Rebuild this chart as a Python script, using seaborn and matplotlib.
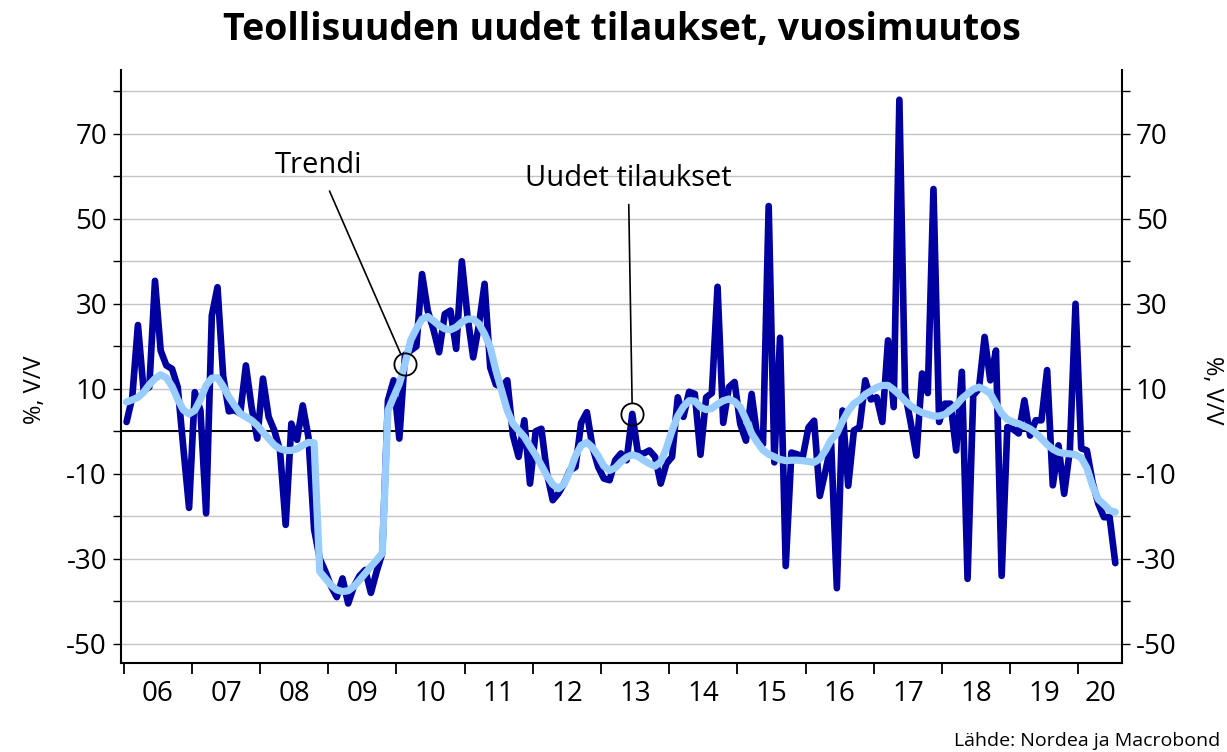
import numpy as np
import pandas as pd
import matplotlib
matplotlib.use("Agg")
import matplotlib.pyplot as plt
import seaborn as sns

# ---- data (monthly, Jan 2006 onwards) ----
orders = [
    2.2, 8, 25, 9.6, 10.4, 35.4, 19, 15.5, 14.7, 10.4,
    -4, -18, 9.2, 4.9, -19.3, 27.2, 33.9, 13, 4.7, 5,
    4.2, 15.5, 5.7, -1.7, 12.4, 3.4, 0.2, -4.5, -22, 1.8,
    -2, 6.1, -1.3, -23, -30, -33, -36.5, -39, -34.6, -40.5,
    -36.5, -34, -32.6, -38, -33, -28.7, 7.3, 12, -1.7, 18,
    19, 20, 37, 28.4, 24, 18.6, 27.6, 28.4, 19.4, 40,
    27, 17.4, 25, 34.7, 15, 11, 10.5, 12, -1, -6,
    2.6, -12.3, 0, 0.6, -10, -16.2, -14.6, -12.3, -9.2, -8.4,
    2, 4.5, -3.7, -8.4, -11.1, -11.5, -6.8, -5.2, -6.8, 4.1,
    -5.2, -5.2, -4.5, -6, -12.3, -7.6, -6, 8, 3.4, 9.3,
    8.8, -5.5, 8, 9, 34, 2, 10.4, 11.6, 1.7, -2.2,
    8.8, -1.4, -3, 53, -7.3, 22, -31.7, -5, -5.4, -6,
    0.9, 2.5, -15.2, -9.3, -3, -36.9, 4.9, -12.8, 0.2, 1,
    12, 7.5, 8, 2.2, 21.4, 5.7, 78, 9, 2, -5.7,
    13.6, 9, 57, 2.2, 6.5, 6.5, -4.5, 14, -34.7, 8.5,
    10, 22.2, 12, 19, -34, 1, 0.5, -0.5, 7.3, -1,
    2.6, 2.6, 14.4, -12.7, -3.3, -14.7, -4.5, 30, -4, -4.5,
    -12, -17, -20.2, -20.2, -31,
]
trend = [
    6.9, 7.4, 8.0, 9.2, 11.0, 12.4, 13.3, 12.6, 10.6, 7.5,
    5.0, 4.1, 4.9, 7.5, 10.8, 12.5, 12.6, 10.6, 8.1, 6.1,
    4.2, 3.4, 2.6, 1.4, -0.2, -1.7, -3.2, -4.1, -4.5, -4.5,
    -4.1, -3.3, -2.6, -2.7, -33.0, -34.6, -36.2, -37.3, -37.7, -37.5,
    -36.5, -35.0, -33.4, -31.8, -30.3, -28.7, 4.9, 8.1, 11.2, 15.9,
    21.4, 24.1, 26.4, 27.0, 26.0, 24.9, 24.1, 23.9, 24.5, 25.7,
    26.4, 26.4, 25.3, 22.9, 19.8, 14.3, 9.6, 4.9, 1.8, 0.2,
    -1.3, -3.5, -5.6, -8.0, -10.5, -12.5, -13.5, -12.4, -9.5, -5.8,
    -3.3, -2.6, -3.8, -5.8, -8.2, -9.2, -8.6, -7.2, -6.1, -5.5,
    -5.9, -6.8, -7.6, -8.2, -7.2, -4.0, 0.2, 3.6, 5.8, 7.2,
    7.1, 5.7, 5.1, 5.4, 6.4, 7.2, 7.6, 7.0, 5.7, 2.8,
    -0.5, -2.6, -4.4, -5.4, -6.0, -6.6, -6.9, -6.8, -6.8, -6.9,
    -7.1, -7.3, -6.5, -4.5, -2.0, -0.5, 2.4, 4.8, 6.5, 7.4,
    8.7, 9.5, 10.3, 10.8, 10.8, 9.8, 8.6, 7.2, 6.0, 5.1,
    4.4, 4.0, 3.6, 3.6, 4.0, 5.0, 6.1, 7.7, 8.8, 9.9,
    10.4, 9.8, 8.9, 6.5, 4.2, 2.8, 2.2, 1.8, 1.2, 0.6,
    -0.4, -1.7, -3.1, -4.2, -4.9, -5.2, -5.3, -5.5, -6.2, -8.6,
    -12.8, -16.0, -17.2, -18.6, -19.0,
]
start_year = 2006
year_labels = ["06", "07", "08", "09", "10", "11", "12", "13",
               "14", "15", "16", "17", "18", "19", "20"]
y_tick_labels = [-50, -30, -10, 10, 30, 50, 70]

title = "Teollisuuden uudet tilaukset, vuosimuutos"
ylabel = "%, V/V"
source = "Lähde: Nordea ja Macrobond"
lbl_trend = "Trendi"
lbl_orders = "Uudet tilaukset"

n = min(len(orders), len(trend))
x = start_year + (np.arange(n) + 0.5) / 12.0
df = pd.DataFrame({"x": x, "orders": orders[:n], "trend": trend[:n]})

# ---- style ----
sns.set_theme(style="white")
plt.rcParams["font.family"] = ["Open Sans", "DejaVu Sans"]
plt.rcParams["text.color"] = "black"
plt.rcParams["xtick.color"] = "black"
plt.rcParams["ytick.color"] = "black"
plt.rcParams["axes.labelcolor"] = "black"

fig = plt.figure(figsize=(12.27, 7.52), dpi=100)
ax = fig.add_axes([121 / 1227, 1 - 663 / 752, (1122 - 121) / 1227, (663 - 70) / 752])

dark = "#0000A0"
light = "#99CCFF"

# grid
for v in range(-50, 90, 10):
    ax.axhline(v, color="#c4c4c4", lw=1.0, zorder=0)
ax.axhline(0, color="black", lw=1.4, zorder=1)

sns.lineplot(data=df, x="x", y="orders", ax=ax, color=dark, lw=4.8,
             zorder=3, legend=False)
sns.lineplot(data=df, x="x", y="trend", ax=ax, color=light, lw=5.2,
             zorder=4, legend=False)

xmin, xmax = start_year - 0.04, start_year + 14.64
ax.set_xlim(xmin, xmax)
ax.set_ylim(-54.5, 85)

# x ticks at year boundaries, labels centred in the year
ax.set_xticks([start_year + k for k in range(len(year_labels))])
ax.set_xticklabels([])
label_pos = []
for k in range(len(year_labels)):
    a = start_year + k
    b = min(a + 1, xmax)
    label_pos.append((a + b) / 2)
ax.set_xticks(label_pos, minor=True)
ax.set_xticklabels(year_labels, minor=True)
ax.tick_params(axis="x", which="major", direction="out", length=8, width=1.3,
               color="black", bottom=True)
ax.tick_params(axis="x", which="minor", length=0, pad=12, labelsize=20,
               labelcolor="black")

# y ticks every 10, labels at odd tens, on both sides
ax.set_yticks(list(range(-50, 90, 10)))
ax.set_yticklabels([str(v) if v in y_tick_labels else "" for v in range(-50, 90, 10)])
ax.tick_params(axis="y", which="major", direction="out", length=6, width=1.0,
               color="black", left=True, right=True, labelleft=True,
               labelright=True, labelsize=20, pad=4, labelcolor="black")

for s in ["left", "right", "bottom"]:
    ax.spines[s].set_visible(True)
    ax.spines[s].set_color("black")
    ax.spines[s].set_linewidth(1.5)
ax.spines["top"].set_visible(False)

ax.set_xlabel("")
ax.set_ylabel("")
fig.text(35 / 1227, 1 - 390 / 752, ylabel, rotation=90, ha="center", va="center",
         fontsize=17, color="black")
fig.text(1212 / 1227, 1 - 390 / 752, ylabel, rotation=270, ha="center", va="center",
         fontsize=17, color="black")

# annotations
i_t, i_o = 49, 89
ax.plot([df.x[i_t]], [df.trend[i_t]], marker="o", ms=16, mfc="none", mec="black",
        mew=1.3, zorder=6)
ax.plot([df.x[i_o]], [df.orders[i_o]], marker="o", ms=16, mfc="none", mec="black",
        mew=1.3, zorder=6)
ax.annotate(lbl_trend, xy=(df.x[i_t], df.trend[i_t]), xytext=(2008.855, 62.5),
            ha="center", va="center", fontsize=21, color="black",
            arrowprops=dict(arrowstyle="-", color="black", lw=1.2,
                            shrinkA=6, shrinkB=8))
ax.annotate(lbl_orders, xy=(df.x[i_o], df.orders[i_o]), xytext=(2013.40, 59.5),
            ha="center", va="center", fontsize=21, color="black",
            arrowprops=dict(arrowstyle="-", color="black", lw=1.2,
                            shrinkA=6, shrinkB=8))

fig.text(622 / 1227, 1 - 30 / 752, title, ha="center", va="center",
         fontsize=27, fontweight="bold", color="black")
fig.text(1220 / 1227, 1 - 741 / 752, source, ha="right", va="center", fontsize=14,
         color="black")

fig.savefig("out.png", dpi=100)
